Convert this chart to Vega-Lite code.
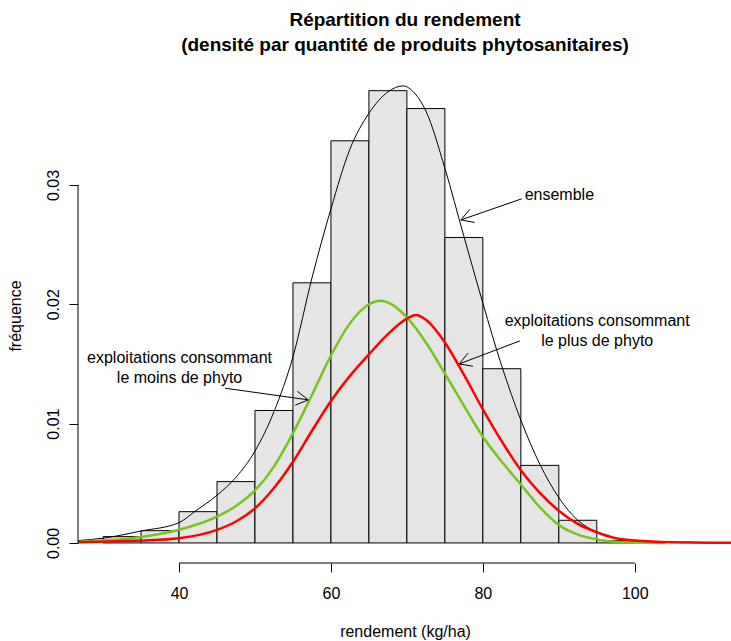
{
  "$schema": "https://vega.github.io/schema/vega-lite/v6.json",
  "autosize": "none",
  "width": 654,
  "height": 495,
  "padding": {"left": 78, "top": 68, "right": 0, "bottom": 78},
  "background": "white",
  "config": {
    "view": {"stroke": null},
    "font": "Liberation Sans",
    "axis": {"labelFont": "Liberation Sans", "titleFont": "Liberation Sans", "labelColor": "black", "titleColor": "black", "tickColor": "black", "labelFontSize": 16, "titleFontSize": 16, "titleFontWeight": "normal", "grid": false, "domain": false, "tickSize": 9, "tickWidth": 1}
  },
  "title": {
    "text": ["Répartition du rendement", "(densité par quantité de produits phytosanitaires)"],
    "font": "Liberation Sans",
    "fontSize": 19,
    "fontWeight": "bold",
    "color": "black",
    "anchor": "middle",
    "frame": "group",
    "lineHeight": 25,
    "offset": 13
  },
  "datasets": {
    "hist": [
      {"x0": 30, "x1": 35, "densite": 0.00053},
      {"x0": 35, "x1": 40, "densite": 0.00103},
      {"x0": 40, "x1": 45, "densite": 0.00262},
      {"x0": 45, "x1": 50, "densite": 0.00514},
      {"x0": 50, "x1": 55, "densite": 0.0111},
      {"x0": 55, "x1": 60, "densite": 0.0218},
      {"x0": 60, "x1": 65, "densite": 0.0337},
      {"x0": 65, "x1": 70, "densite": 0.0379},
      {"x0": 70, "x1": 75, "densite": 0.0364},
      {"x0": 75, "x1": 80, "densite": 0.0256},
      {"x0": 80, "x1": 85, "densite": 0.0146},
      {"x0": 85, "x1": 90, "densite": 0.0065},
      {"x0": 90, "x1": 95, "densite": 0.0019},
      {"x0": 95, "x1": 100, "densite": 0.0002}
    ],
    "ensemble": [
      {"x": 26.7, "y": 0.0002}, {"x": 30, "y": 0.0004}, {"x": 35, "y": 0.0010}, {"x": 40, "y": 0.0017},
      {"x": 42, "y": 0.0026}, {"x": 45, "y": 0.0040}, {"x": 47.5, "y": 0.0055}, {"x": 50, "y": 0.0077},
      {"x": 52.5, "y": 0.0110}, {"x": 55, "y": 0.0156}, {"x": 57.5, "y": 0.0222}, {"x": 60, "y": 0.0280},
      {"x": 62.5, "y": 0.0330}, {"x": 65, "y": 0.0360}, {"x": 67.5, "y": 0.0378}, {"x": 69.5, "y": 0.0383},
      {"x": 71, "y": 0.0377}, {"x": 72.5, "y": 0.0362}, {"x": 75, "y": 0.0314}, {"x": 77.5, "y": 0.0257},
      {"x": 80, "y": 0.0201}, {"x": 82.5, "y": 0.0148}, {"x": 85, "y": 0.0103}, {"x": 87.5, "y": 0.0066},
      {"x": 90, "y": 0.0038}, {"x": 92.5, "y": 0.0019}, {"x": 95, "y": 0.0009}, {"x": 97.5, "y": 0.0004},
      {"x": 100, "y": 0.00015}, {"x": 105, "y": 0.00004}, {"x": 110, "y": 0.00001}, {"x": 112.8, "y": 0.0}
    ],
    "moins": [
      {"x": 26.7, "y": 0.0001}, {"x": 30, "y": 0.0002}, {"x": 35, "y": 0.0005}, {"x": 40, "y": 0.0011},
      {"x": 45, "y": 0.0022}, {"x": 47.5, "y": 0.0031}, {"x": 50, "y": 0.0044}, {"x": 52.5, "y": 0.0064},
      {"x": 55, "y": 0.0092}, {"x": 57.5, "y": 0.0124}, {"x": 60, "y": 0.0157}, {"x": 62.5, "y": 0.0184},
      {"x": 65, "y": 0.0200}, {"x": 66.5, "y": 0.0203}, {"x": 68, "y": 0.0200}, {"x": 70, "y": 0.0189},
      {"x": 72.5, "y": 0.0168}, {"x": 75, "y": 0.0142}, {"x": 77.5, "y": 0.0115}, {"x": 80, "y": 0.0089},
      {"x": 82.5, "y": 0.0068}, {"x": 85, "y": 0.0049}, {"x": 87.5, "y": 0.0030}, {"x": 90, "y": 0.0015},
      {"x": 92.5, "y": 0.0007}, {"x": 95, "y": 0.0003}, {"x": 97.5, "y": 0.0001}, {"x": 100, "y": 0.00003},
      {"x": 104, "y": 0.0}
    ],
    "plus": [
      {"x": 26.7, "y": 0.00005}, {"x": 30, "y": 0.0001}, {"x": 35, "y": 0.0002}, {"x": 40, "y": 0.0004},
      {"x": 45, "y": 0.0011}, {"x": 47.5, "y": 0.0018}, {"x": 50, "y": 0.0029}, {"x": 52.5, "y": 0.0046},
      {"x": 55, "y": 0.0068}, {"x": 57.5, "y": 0.0094}, {"x": 60, "y": 0.0119}, {"x": 62.5, "y": 0.0140},
      {"x": 65, "y": 0.0158}, {"x": 67.5, "y": 0.0175}, {"x": 70, "y": 0.0188}, {"x": 71.2, "y": 0.0191},
      {"x": 72.5, "y": 0.0187}, {"x": 75, "y": 0.0168}, {"x": 77.5, "y": 0.0141}, {"x": 80, "y": 0.0112},
      {"x": 82.5, "y": 0.0085}, {"x": 85, "y": 0.0061}, {"x": 87.5, "y": 0.0042}, {"x": 90, "y": 0.0027},
      {"x": 92.5, "y": 0.0016}, {"x": 95, "y": 0.0009}, {"x": 97.5, "y": 0.0004}, {"x": 100, "y": 0.0002},
      {"x": 105, "y": 0.00005}, {"x": 110, "y": 0.00002}, {"x": 112.8, "y": 0.00001}
    ],
    "fleches": [
      {"xa": 85.13, "ya": 0.02884, "xb": 77.11, "yb": 0.02707},
      {"xa": 78.92, "ya": 0.02686, "xb": 77.11, "yb": 0.02707},
      {"xa": 78.30, "ya": 0.02796, "xb": 77.11, "yb": 0.02707},
      {"xa": 84.87, "ya": 0.01693, "xb": 76.88, "yb": 0.01500},
      {"xa": 78.70, "ya": 0.01481, "xb": 76.88, "yb": 0.01500},
      {"xa": 78.05, "ya": 0.01591, "xb": 76.88, "yb": 0.01500},
      {"xa": 46.05, "ya": 0.01297, "xb": 57.01, "yb": 0.01199},
      {"xa": 55.57, "ya": 0.01271, "xb": 57.01, "yb": 0.01199},
      {"xa": 55.30, "ya": 0.01154, "xb": 57.01, "yb": 0.01199}
    ],
    "textes": [
      {"x": 90.07, "y": 0.02917, "t": "ensemble"},
      {"x": 95.05, "y": 0.01858, "t": "exploitations consommant"},
      {"x": 95.05, "y": 0.01690, "t": "le plus de phyto"},
      {"x": 40.07, "y": 0.01551, "t": "exploitations consommant"},
      {"x": 40.07, "y": 0.01383, "t": "le moins de phyto"}
    ],
    "axex": [{"a": 40, "b": 100}],
    "axey": [{"a": 0, "b": 0.03}]
  },
  "layer": [
    {
      "data": {"name": "hist"},
      "mark": {"type": "rect", "fill": "#e5e5e5", "stroke": "black", "strokeWidth": 1},
      "encoding": {
        "x": {"field": "x0", "type": "quantitative", "scale": {"domain": [26.7, 112.8], "nice": false, "zero": false},
              "axis": {"values": [40, 60, 80, 100], "title": "rendement (kg/ha)", "labelPadding": 13, "titlePadding": 22, "labelFlush": false}},
        "x2": {"field": "x1"},
        "y": {"field": "densite", "type": "quantitative", "scale": {"domain": [-0.00168, 0.0398], "nice": false, "zero": false},
              "axis": {"values": [0, 0.01, 0.02, 0.03], "format": ".2f", "title": "fréquence", "labelAngle": 270, "labelAlign": "center", "labelBaseline": "bottom", "labelPadding": 8, "titlePadding": 22, "labelFlush": false}},
        "y2": {"datum": 0}
      }
    },
    {
      "data": {"name": "ensemble"},
      "mark": {"type": "line", "color": "black", "strokeWidth": 1, "interpolate": "monotone"},
      "encoding": {"x": {"field": "x", "type": "quantitative"}, "y": {"field": "y", "type": "quantitative"}}
    },
    {
      "data": {"name": "moins"},
      "mark": {"type": "line", "color": "#76c41c", "strokeWidth": 2.5, "interpolate": "monotone"},
      "encoding": {"x": {"field": "x", "type": "quantitative"}, "y": {"field": "y", "type": "quantitative"}}
    },
    {
      "data": {"name": "plus"},
      "mark": {"type": "line", "color": "#ff0000", "strokeWidth": 2.5, "interpolate": "monotone"},
      "encoding": {"x": {"field": "x", "type": "quantitative"}, "y": {"field": "y", "type": "quantitative"}}
    },
    {
      "data": {"name": "fleches"},
      "mark": {"type": "rule", "color": "black", "strokeWidth": 1},
      "encoding": {"x": {"field": "xa", "type": "quantitative"}, "y": {"field": "ya", "type": "quantitative"}, "x2": {"field": "xb"}, "y2": {"field": "yb"}}
    },
    {
      "data": {"name": "textes"},
      "mark": {"type": "text", "align": "center", "baseline": "middle", "fontSize": 16, "font": "Liberation Sans", "color": "black"},
      "encoding": {"x": {"field": "x", "type": "quantitative"}, "y": {"field": "y", "type": "quantitative"}, "text": {"field": "t"}}
    },
    {
      "data": {"name": "axex"},
      "mark": {"type": "rule", "color": "black", "strokeWidth": 1},
      "encoding": {"x": {"field": "a", "type": "quantitative"}, "x2": {"field": "b"}, "y": {"datum": -0.00168}}
    },
    {
      "data": {"name": "axey"},
      "mark": {"type": "rule", "color": "black", "strokeWidth": 1},
      "encoding": {"y": {"field": "a", "type": "quantitative"}, "y2": {"field": "b"}, "x": {"datum": 26.7}}
    }
  ]
}
